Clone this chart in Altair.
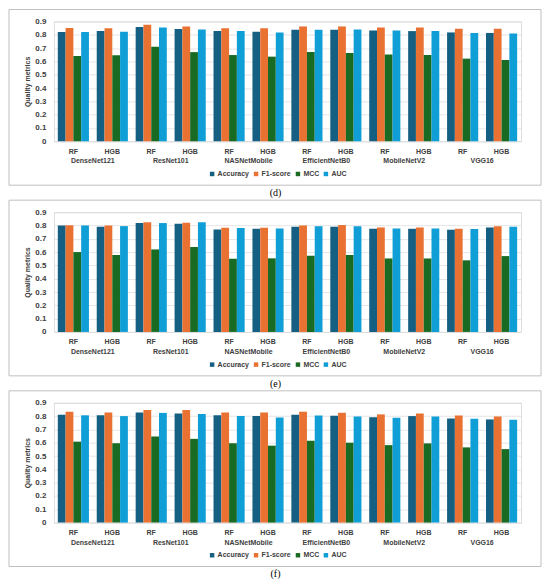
import altair as alt
import pandas as pd

models = ["DenseNet121", "ResNet101", "NASNetMobile", "EfficientNetB0", "MobileNetV2", "VGG16"]
classifiers = ["RF", "HGB"]
metrics = ["Accuracy", "F1-score", "MCC", "AUC"]
colors = ["#156082", "#E97132", "#196B24", "#0F9ED5"]
captions = ["(d)", "(e)", "(f)"]
y_ticks = [0, 0.1, 0.2, 0.3, 0.4, 0.5, 0.6, 0.7, 0.8, 0.9]

# order: DenseNet121 RF, HGB, ResNet101 RF, HGB, ...
d_acc = [0.821, 0.828, 0.858, 0.843, 0.828, 0.823, 0.838, 0.838, 0.833, 0.828, 0.818, 0.814]
d_f1 = [0.851, 0.850, 0.875, 0.863, 0.850, 0.850, 0.863, 0.863, 0.855, 0.855, 0.846, 0.846]
d_mcc = [0.641, 0.646, 0.710, 0.670, 0.648, 0.636, 0.670, 0.663, 0.653, 0.648, 0.621, 0.611]
d_auc = [0.821, 0.823, 0.855, 0.840, 0.828, 0.818, 0.838, 0.840, 0.833, 0.828, 0.814, 0.809]

e_acc = [0.800, 0.790, 0.818, 0.813, 0.770, 0.775, 0.790, 0.790, 0.775, 0.775, 0.768, 0.785]
e_f1 = [0.802, 0.800, 0.825, 0.820, 0.783, 0.783, 0.800, 0.803, 0.785, 0.785, 0.775, 0.795]
e_mcc = [0.600, 0.578, 0.620, 0.638, 0.550, 0.553, 0.573, 0.578, 0.552, 0.552, 0.538, 0.570]
e_auc = [0.800, 0.795, 0.818, 0.825, 0.780, 0.778, 0.795, 0.795, 0.778, 0.778, 0.773, 0.790]

f_acc = [0.811, 0.806, 0.827, 0.820, 0.806, 0.800, 0.810, 0.803, 0.792, 0.800, 0.782, 0.775]
f_f1 = [0.832, 0.827, 0.845, 0.845, 0.827, 0.827, 0.833, 0.825, 0.813, 0.820, 0.805, 0.797]
f_mcc = [0.608, 0.596, 0.647, 0.629, 0.596, 0.578, 0.615, 0.600, 0.582, 0.595, 0.565, 0.552]
f_auc = [0.806, 0.800, 0.824, 0.816, 0.800, 0.790, 0.805, 0.797, 0.787, 0.797, 0.780, 0.772]

FONT = "Liberation Sans"
TXT = "#404040"
W = 468
H = 120
STEP = W / 12.0

keys = [f"{m}|{c}" for m in models for c in classifiers]


def panel(vals, caption):
    rows = []
    for i, k in enumerate(keys):
        for j, met in enumerate(metrics):
            rows.append({"key": k, "metric": met, "value": vals[j][i]})
    df = pd.DataFrame(rows)

    xscale = alt.Scale(domain=keys, paddingInner=0.2, paddingOuter=0.1)

    bars = alt.Chart(df).mark_bar().encode(
        x=alt.X("key:N", scale=xscale,
                axis=alt.Axis(title=None, labelExpr="split(datum.label, '|')[1]",
                              labelAngle=0, ticks=False, domain=False, grid=False,
                              labelPadding=6, labelFontSize=7, labelFontWeight="bold",
                              labelFont=FONT, labelColor=TXT)),
        xOffset=alt.XOffset("metric:N", sort=metrics,
                            scale=alt.Scale(domain=metrics, paddingInner=0, paddingOuter=0)),
        y=alt.Y("value:Q", scale=alt.Scale(domain=[0, 0.9], nice=False, zero=True),
                axis=alt.Axis(values=y_ticks, format=".1~f", title="Quality metrics",
                              titleFontSize=7, titleFontWeight="bold", titleFont=FONT,
                              titleColor=TXT, titlePadding=4,
                              labelFontSize=8, labelFontWeight="bold", labelFont=FONT,
                              labelColor=TXT, labelPadding=8, ticks=False, domain=False,
                              grid=True, gridColor="#D9D9D9", gridWidth=0.7)),
        color=alt.Color("metric:N", sort=metrics,
                        scale=alt.Scale(domain=metrics, range=colors),
                        legend=alt.Legend(title=None, orient="none", legendX=155,
                                          legendY=H + 29, direction="horizontal",
                                          symbolType="square", symbolSize=20,
                                          symbolStrokeWidth=0,
                                          labelFontSize=7, labelFontWeight="bold",
                                          labelFont=FONT, labelColor=TXT,
                                          columnPadding=3, labelOffset=2)),
    )

    mdf = pd.DataFrame({"key": [m + "|RF" for m in models], "model": models})
    mlabels = alt.Chart(mdf).mark_text(
        dx=STEP / 2, fontSize=7, fontWeight="bold", font=FONT, color=TXT,
        baseline="middle", align="center"
    ).encode(
        x=alt.X("key:N", scale=xscale),
        y=alt.value(H + 20),
        text="model:N",
    )

    cdf = pd.DataFrame({"caption": [caption]})
    box = alt.Chart(cdf).mark_rect(
        fillOpacity=0, stroke="#BFBFBF", strokeWidth=1
    ).encode(
        x=alt.value(-45), x2=alt.value(W + 20),
        y=alt.value(-12), y2=alt.value(H + 44),
    )
    cap = alt.Chart(cdf).mark_text(
        font="Liberation Serif", fontSize=10, color="#000000", baseline="middle", align="center"
    ).encode(
        x=alt.value(222), y=alt.value(H + 52), text="caption:N"
    )

    return alt.layer(box, bars, mlabels, cap).properties(width=W, height=H)


chart = alt.vconcat(
    panel([d_acc, d_f1, d_mcc, d_auc], captions[0]),
    panel([e_acc, e_f1, e_mcc, e_auc], captions[1]),
    panel([f_acc, f_f1, f_mcc, f_auc], captions[2]),
    spacing=0,
).resolve_legend(color="independent").properties(
    padding={"left": 0, "top": 0, "right": 0, "bottom": 0}
).configure_view(strokeWidth=0).configure(background="#FFFFFF")

chart.save("out.html", embed_options={"renderer": "svg", "actions": False})
